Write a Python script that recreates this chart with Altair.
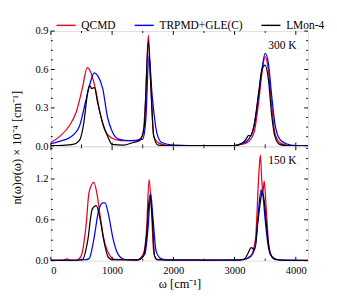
import altair as alt
import pandas as pd

# ---------------- data ----------------
names = ["QCMD", "TRPMD+GLE(C)", "LMon-4"]
colors = ["#e8001c", "#0000ff", "#000000"]

# 300 K panel
qcmd_300_w = [0, 150, 310, 413, 517, 594, 646, 723, 801, 879, 982, 1137, 1395, 1499, 1550, 1592, 1628, 1680, 1757, 1900, 2500, 3000, 3105, 3210, 3316, 3395, 3447, 3500, 3553, 3605, 3658, 3737, 3842, 4000, 4200]
qcmd_300_v = [0.03, 0.08, 0.167, 0.266, 0.46, 0.615, 0.585, 0.46, 0.266, 0.13, 0.069, 0.044, 0.044, 0.081, 0.40, 0.868, 0.52, 0.08, 0.027, 0.008, 0.005, 0.006, 0.015, 0.03, 0.105, 0.35, 0.573, 0.70, 0.59, 0.33, 0.105, 0.03, 0.01, 0.004, 0.003]
trpmd_300_w = [0, 150, 310, 465, 568, 646, 708, 770, 847, 925, 1000, 1106, 1287, 1499, 1550, 1602, 1654, 1731, 1809, 2000, 2500, 3000, 3105, 3210, 3316, 3395, 3447, 3500, 3553, 3605, 3658, 3737, 3842, 4000, 4200]
trpmd_300_v = [0.02, 0.04, 0.069, 0.155, 0.35, 0.50, 0.573, 0.548, 0.45, 0.229, 0.118, 0.057, 0.044, 0.057, 0.204, 0.708, 0.40, 0.105, 0.03, 0.01, 0.005, 0.006, 0.02, 0.044, 0.155, 0.40, 0.60, 0.725, 0.647, 0.40, 0.18, 0.057, 0.02, 0.005, 0.003]
lmon_300_w = [0, 200, 362, 465, 543, 594, 630, 671, 708, 770, 847, 925, 1000, 1188, 1343, 1447, 1525, 1592, 1628, 1680, 1750, 2000, 2500, 3000, 3105, 3180, 3230, 3260, 3316, 3395, 3447, 3500, 3553, 3605, 3658, 3737, 3842, 4000, 4200]
lmon_300_v = [0.005, 0.008, 0.015, 0.044, 0.20, 0.40, 0.475, 0.45, 0.46, 0.327, 0.18, 0.081, 0.015, 0.01, 0.03, 0.044, 0.155, 0.82, 0.52, 0.08, 0.01, 0.005, 0.005, 0.006, 0.02, 0.05, 0.086, 0.08, 0.155, 0.425, 0.60, 0.634, 0.52, 0.25, 0.08, 0.015, 0.005, 0.003, 0.002]

# 150 K panel
qcmd_150_w = [0, 200, 260, 320, 417, 495, 573, 625, 703, 755, 807, 859, 938, 1042, 1406, 1510, 1563, 1604, 1641, 1677, 1719, 2000, 2500, 3000, 3100, 3263, 3342, 3395, 3421, 3447, 3463, 3484, 3516, 3553, 3605, 3684, 3800, 4200]
qcmd_150_v = [0.005, 0.006, 0.025, 0.006, 0.005, 0.07, 0.50, 1.01, 1.15, 0.97, 0.645, 0.35, 0.115, 0.02, 0.01, 0.10, 0.46, 1.19, 0.78, 0.15, 0.02, 0.008, 0.008, 0.008, 0.01, 0.07, 0.32, 1.25, 1.55, 1.15, 1.0, 1.17, 0.78, 0.28, 0.07, 0.02, 0.005, 0.003]
trpmd_150_w = [0, 400, 550, 625, 703, 781, 849, 885, 938, 1016, 1094, 1198, 1406, 1536, 1589, 1630, 1667, 1719, 1797, 1900, 2500, 3000, 3150, 3263, 3342, 3395, 3432, 3463, 3500, 3553, 3632, 3737, 4200]
trpmd_150_v = [0.003, 0.004, 0.01, 0.03, 0.32, 0.74, 0.85, 0.85, 0.69, 0.32, 0.10, 0.02, 0.005, 0.10, 0.50, 0.99, 0.63, 0.14, 0.03, 0.01, 0.005, 0.006, 0.015, 0.06, 0.22, 0.78, 1.04, 0.96, 0.60, 0.20, 0.04, 0.01, 0.003]
lmon_150_w = [0, 400, 521, 599, 677, 740, 807, 859, 938, 1016, 1406, 1510, 1563, 1615, 1656, 1693, 1750, 2000, 2400, 2500, 3000, 3158, 3210, 3274, 3326, 3379, 3421, 3453, 3484, 3526, 3579, 3658, 3800, 4200]
lmon_150_v = [0.003, 0.004, 0.02, 0.28, 0.76, 0.81, 0.60, 0.32, 0.05, 0.01, 0.01, 0.07, 0.36, 0.96, 0.63, 0.07, 0.01, 0.006, 0.012, 0.006, 0.006, 0.02, 0.09, 0.19, 0.16, 0.55, 0.86, 1.02, 0.88, 0.48, 0.10, 0.02, 0.005, 0.002]

x_major = [0, 1000, 2000, 3000, 4000]
x_minor = [500, 1500, 2500, 3500]
top_major = [0.0, 0.3, 0.6, 0.9]
top_minor = [0.075, 0.15, 0.225, 0.375, 0.45, 0.525, 0.675, 0.75, 0.825]
bot_major = [0.0, 0.6, 1.2]
bot_minor = [0.15, 0.3, 0.45, 0.75, 0.9, 1.05, 1.35, 1.5, 1.65]

# ---------------- build tables ----------------
def frame(triples):
    rows = []
    for name, ws, vs in triples:
        for w, v in zip(ws, vs):
            rows.append({"omega": w, "value": v, "series": name})
    return pd.DataFrame(rows)

df300 = frame([(names[0], qcmd_300_w, qcmd_300_v), (names[1], trpmd_300_w, trpmd_300_v), (names[2], lmon_300_w, lmon_300_v)])
df150 = frame([(names[0], qcmd_150_w, qcmd_150_v), (names[1], trpmd_150_w, trpmd_150_v), (names[2], lmon_150_w, lmon_150_v)])

FONT = "Liberation Serif"
W = 270
H1 = 121
H2 = 120
XMAX = 4200


def panel(df, H, ymax, ymaj, ymin, bottom, label, legend):
    xs = alt.Scale(domain=[0, XMAX], nice=False, zero=False)
    ys = alt.Scale(domain=[0, ymax], nice=False, zero=True)

    if bottom:
        xax = alt.Axis(values=x_major, format="d", tickSize=0, labelPadding=5, domain=False, grid=False,
                       title="ω [cm⁻¹]", titleFont=FONT, titleFontSize=13, titleFontWeight="normal", titlePadding=2,
                       labelFont=FONT, labelFontSize=11, labelColor="black")
    else:
        xax = alt.Axis(values=x_major, labels=False, tickSize=0, domain=False, grid=False, title=None)

    if not bottom:
        yax = alt.Axis(values=ymaj, format=".1f", tickSize=0, labelPadding=3, domain=False, grid=False,
                       title="n(ω)σ(ω) × 10⁻⁴ [cm⁻¹]", titleFont=FONT, titleFontSize=13, titleFontWeight="normal",
                       titleY=H + 1, titlePadding=12, labelFont=FONT, labelFontSize=11, labelColor="black")
    else:
        yax = alt.Axis(values=ymaj, format=".1f", tickSize=0, labelPadding=3, domain=False, grid=False, title=None,
                       labelFont=FONT, labelFontSize=11, labelColor="black")

    if legend:
        leg = alt.Legend(orient="none", legendX=5, legendY=-17, direction="horizontal", title=None,
                         symbolType="M-1,0L1,0", symbolSize=400, symbolStrokeWidth=1.5, labelFont=FONT,
                         labelFontSize=12, labelColor="black", columnPadding=16, labelOffset=5,
                         padding=0, rowPadding=0)
    else:
        leg = None

    lines = alt.Chart(df).mark_line(strokeWidth=1.3, interpolate="monotone", clip=True).encode(
        x=alt.X("omega:Q", scale=xs, axis=xax),
        y=alt.Y("value:Q", scale=ys, axis=yax),
        color=alt.Color("series:N", scale=alt.Scale(domain=names, range=colors), legend=leg),
        detail="series:N",
    )

    def xticks(vals, size):
        d = pd.DataFrame({"omega": vals})
        lo = alt.Chart(d).mark_rule(color="black", strokeWidth=1).encode(
            x=alt.X("omega:Q", scale=xs), y=alt.value(H), y2=alt.value(H - size))
        hi = alt.Chart(d).mark_rule(color="black", strokeWidth=1).encode(
            x=alt.X("omega:Q", scale=xs), y=alt.value(0), y2=alt.value(size))
        return [lo, hi]

    def yticks(vals, size):
        d = pd.DataFrame({"value": vals})
        le = alt.Chart(d).mark_rule(color="black", strokeWidth=1).encode(
            y=alt.Y("value:Q", scale=ys), x=alt.value(0), x2=alt.value(size))
        ri = alt.Chart(d).mark_rule(color="black", strokeWidth=1).encode(
            y=alt.Y("value:Q", scale=ys), x=alt.value(W), x2=alt.value(W - size))
        return [le, ri]

    tick_layers = xticks(x_major, 4) + xticks(x_minor, 2) + yticks(ymaj, 4) + yticks(ymin, 2)

    txt = alt.Chart(pd.DataFrame({"t": [label]})).mark_text(
        font=FONT, fontSize=12, align="right", baseline="middle", color="black"
    ).encode(text="t:N", x=alt.value(W - 12), y=alt.value(15))

    return alt.layer(lines, *tick_layers, txt).properties(width=W, height=H)


top = panel(df300, H1, 0.9, top_major, top_minor, False, "300 K", True)
bot = panel(df150, H2, 1.68, bot_major, bot_minor, True, "150 K", False)

chart = alt.vconcat(top, bot, spacing=0, bounds="flush").configure_view(stroke="black", strokeWidth=1).configure(
    background="white", padding={"left": 2, "top": 0, "right": 5, "bottom": 0}
).configure_axis(labelFont=FONT, titleFont=FONT)

chart.save("out.html", embed_options={"renderer": "svg", "actions": False})
